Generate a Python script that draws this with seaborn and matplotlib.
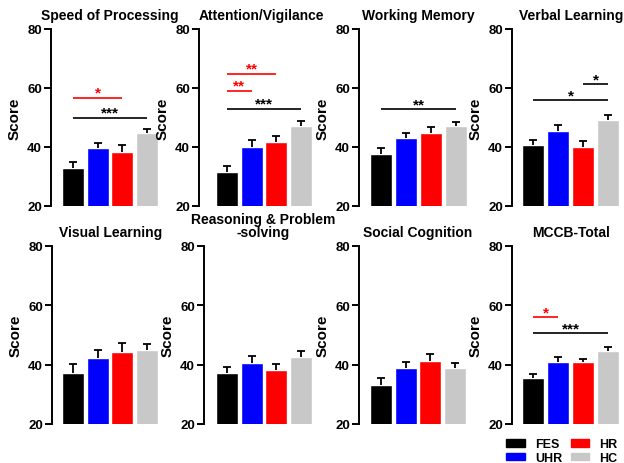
import numpy as np
import matplotlib
matplotlib.use("Agg")
import matplotlib.pyplot as plt
import seaborn as sns

# ---------------- Data ----------------
groups = ["FES", "UHR", "HR", "HC"]
domains = ["Speed of Processing", "Attention/Vigilance", "Working Memory",
           "Verbal Learning", "Visual Learning",
           "Reasoning & Problem\n-solving", "Social Cognition", "MCCB-Total"]

fes_mean = [33.0, 31.6, 37.7, 40.8, 37.2, 37.2, 33.2, 35.4]
uhr_mean = [39.8, 40.1, 42.9, 45.3, 42.2, 40.6, 38.9, 40.8]
hr_mean = [38.4, 41.8, 44.6, 40.1, 44.3, 38.2, 41.3, 40.8]
hc_mean = [44.6, 47.0, 47.0, 49.0, 44.9, 42.6, 38.9, 44.5]

fes_sem = [2.0, 1.8, 2.1, 1.7, 2.9, 2.0, 2.2, 1.5]
uhr_sem = [1.5, 2.3, 1.7, 2.0, 2.8, 2.2, 1.9, 1.7]
hr_sem = [2.3, 2.0, 2.3, 1.8, 3.0, 2.1, 2.4, 1.0]
hc_sem = [1.6, 1.7, 1.6, 2.0, 2.2, 2.0, 1.6, 1.3]

# significance comparisons: panel, group a, group b, stars
sig_panel = [0, 0, 1, 1, 1, 2, 3, 3, 7, 7]
sig_a = ["FES", "FES", "FES", "FES", "FES", "FES", "FES", "HR", "FES", "FES"]
sig_b = ["HR", "HC", "HR", "UHR", "HC", "HC", "HC", "HC", "UHR", "HC"]
sig_stars = ["*", "***", "**", "**", "***", "**", "*", "*", "*", "***"]
sig_level = [56.7, 50.0, 64.9, 59.1, 53.0, 52.8, 55.8, 61.3, 56.1, 50.7]

colors = ["#000000", "#0000FF", "#FF0000", "#C8C8C8"]

# ---------------- Layout (pixels) ----------------
W, H = 624, 464
spine_px = [51, 199, 359, 512, 52, 204, 359, 512]
fes_px = [73, 227, 381, 533, 73, 227, 381, 533]
hc_px = [147, 301, 456, 608, 147, 301, 455, 608]
row_top = [30, 247]
row_bot = [207, 425]

sns.set_style("ticks")
plt.rcParams['font.family'] = ['Liberation Sans', 'DejaVu Sans']
plt.rcParams['font.weight'] = 'bold'
plt.rcParams['axes.labelweight'] = 'bold'
plt.rcParams['axes.titleweight'] = 'bold'
for key in ['text.color', 'axes.labelcolor', 'xtick.color', 'ytick.color',
            'axes.edgecolor']:
    plt.rcParams[key] = 'black'

fig = plt.figure(figsize=(W / 100, H / 100), dpi=100)

means = np.array([fes_mean, uhr_mean, hr_mean, hc_mean])
sems = np.array([fes_sem, uhr_sem, hr_sem, hc_sem])

axes = []
for k, name in enumerate(domains):
    row = k // 4
    unit = (hc_px[k] - fes_px[k]) / 3
    left = spine_px[k]
    right = hc_px[k] + 22
    ax = fig.add_axes([left / W, 1 - row_bot[row] / H,
                       (right - left) / W, (row_bot[row] - row_top[row]) / H])
    axes.append(ax)

    sns.barplot(x=groups, y=means[:, k], hue=groups, palette=colors,
                saturation=1, width=0.89, legend=False, ax=ax, zorder=2)
    eb = ax.errorbar(np.arange(4), means[:, k],
                     yerr=[np.zeros(4), sems[:, k]], fmt='none',
                     ecolor='black', elinewidth=1.3, capsize=3.2,
                     capthick=1.3, zorder=3)
    eb[1][0].set_visible(False)

    ax.set_xlim(-(fes_px[k] - spine_px[k]) / unit, 3 + 22 / unit)
    ax.set_ylim(20, 80)
    ax.set_yticks([20, 40, 60, 80])
    ax.set_xticks([])
    ax.set_xlabel("")
    ax.set_ylabel("Score", fontsize=11, labelpad=4)
    ax.tick_params(axis='y', labelsize=9.5, length=5, width=1.4, pad=1.5)
    for lab in ax.get_yticklabels():
        lab.set_fontweight('bold')
    sns.despine(ax=ax, bottom=True)
    ax.spines['left'].set_linewidth(1.4)
    if "\n" in name:
        ax.set_title(name, fontsize=10, pad=7, linespacing=0.92)
    else:
        ax.set_title(name, fontsize=10, pad=7)

# significance brackets
for p, a, b, s, y in zip(sig_panel, sig_a, sig_b, sig_stars, sig_level):
    ax = axes[p]
    i, j = groups.index(a), groups.index(b)
    col = "black" if b == "HC" else "#FF0000"
    ax.plot([i, j], [y, y], color=col, lw=1.2, solid_capstyle='butt')
    ax.text((i + j) / 2, y + 0.3, s, color=col, ha='center', va='baseline',
            fontsize=11, fontweight='bold')

# legend
handles = [plt.Rectangle((0, 0), 1, 1, color=c) for c in colors]
fig.legend(handles, groups, ncol=2, loc='upper left',
           bbox_to_anchor=(506 / W, 1 - 439 / H), frameon=False,
           prop={'weight': 'bold', 'size': 9}, handlelength=1.5,
           handleheight=0.6, handletextpad=0.8, columnspacing=0.7,
           labelspacing=0.15, borderpad=0, borderaxespad=0)

fig.savefig("out.png", dpi=100)
